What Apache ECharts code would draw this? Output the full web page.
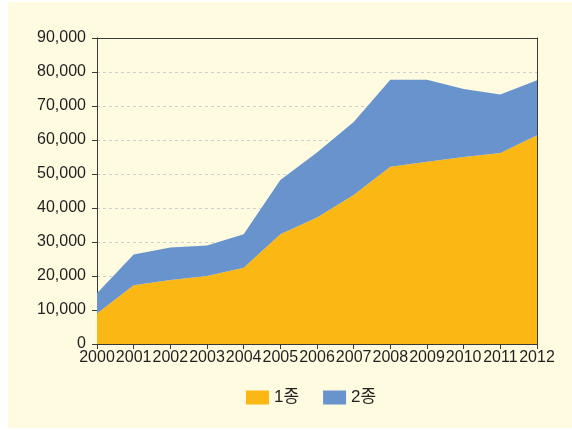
<!DOCTYPE html>
<html lang="ko">
<head>
    <meta charset="UTF-8">
    <title>1종 2종</title>
    <script src="https://cdn.jsdelivr.net/npm/echarts@6/dist/echarts.min.js"></script>
    <style>
        html, body { margin: 0; padding: 0; background: #ffffff; }
        #main { width: 572px; height: 430px; }
    </style>
</head>
<body>
<div id="main"></div>
<script>
    // 연도
    var years = ['2000', '2001', '2002', '2003', '2004', '2005', '2006', '2007', '2008', '2009', '2010', '2011', '2012'];
    // 1종 (아래)
    var type1 = [9000, 17300, 18800, 20000, 22400, 32300, 37200, 43800, 52100, 53600, 55000, 56200, 61400];
    // 2종 (위, 누적)
    var type2 = [5900, 9000, 9600, 9000, 9900, 15900, 19100, 21500, 25600, 24100, 20000, 17200, 16200];

    var myChart = echarts.init(document.getElementById('main'));
    var bg = '#fefbe0';
    var textColor = '#231f20';
    var lineColor = '#3a3a3a';

    var option = {
        backgroundColor: '#ffffff',
        animation: false,
        graphic: [{
            type: 'rect',
            z: -10,
            shape: { x: 8, y: 2, width: 564, height: 426 },
            style: { fill: bg }
        }],
        grid: {
            left: 97,
            right: 35,
            top: 38,
            bottom: 86
        },
        legend: {
            bottom: 19,
            left: 241,
            icon: 'rect',
            itemWidth: 23,
            itemHeight: 14,
            itemGap: 24,
            textStyle: { fontFamily: 'Liberation Sans, Noto Sans CJK KR', fontSize: 17, color: textColor, padding: [0, 0, 0, 0] },
            data: ['1종', '2종']
        },
        xAxis: [
            {
                type: 'category',
                boundaryGap: false,
                data: years,
                axisLine: { onZero: false, lineStyle: { color: lineColor, width: 1 } },
                axisTick: { alignWithLabel: true, length: 5, lineStyle: { color: lineColor } },
                axisLabel: {
                    interval: 0,
                    margin: 6,
                    fontFamily: 'Liberation Sans',
                    fontSize: 16,
                    color: textColor
                },
                splitLine: { show: false }
            },
            {
                // 위쪽 테두리
                type: 'category',
                position: 'top',
                boundaryGap: false,
                data: years,
                axisLine: { show: true, onZero: false, lineStyle: { color: lineColor, width: 1 } },
                axisTick: { show: false },
                axisLabel: { show: false },
                splitLine: { show: false }
            }
        ],
        yAxis: [
            {
                type: 'value',
                min: 0,
                max: 90000,
                interval: 10000,
                axisLine: { show: true, onZero: false, lineStyle: { color: lineColor, width: 1 } },
                axisTick: { show: true, length: 5, lineStyle: { color: lineColor } },
                axisLabel: {
                    margin: 11,
                    fontFamily: 'Liberation Sans',
                    fontSize: 16,
                    color: textColor,
                    formatter: function (v) { return v.toLocaleString('en-US'); }
                },
                splitLine: { show: true, lineStyle: { color: '#cfcfcf', type: [3, 3], width: 1 } }
            },
            {
                // 오른쪽 테두리
                type: 'value',
                position: 'right',
                min: 0,
                max: 90000,
                interval: 10000,
                axisLine: { show: true, onZero: false, lineStyle: { color: lineColor, width: 1 } },
                axisTick: { show: false },
                axisLabel: { show: false },
                splitLine: { show: false }
            }
        ],
        series: [
            {
                name: '1종',
                type: 'line',
                stack: 'total',
                data: type1,
                symbol: 'none',
                lineStyle: { width: 0 },
                itemStyle: { color: '#fbb714' },
                areaStyle: { color: '#fbb714', opacity: 1 }
            },
            {
                name: '2종',
                type: 'line',
                stack: 'total',
                data: type2,
                symbol: 'none',
                lineStyle: { width: 0 },
                itemStyle: { color: '#6893cc' },
                areaStyle: { color: '#6893cc', opacity: 1 }
            }
        ]
    };
    myChart.setOption(option);
</script>
</body>
</html>
